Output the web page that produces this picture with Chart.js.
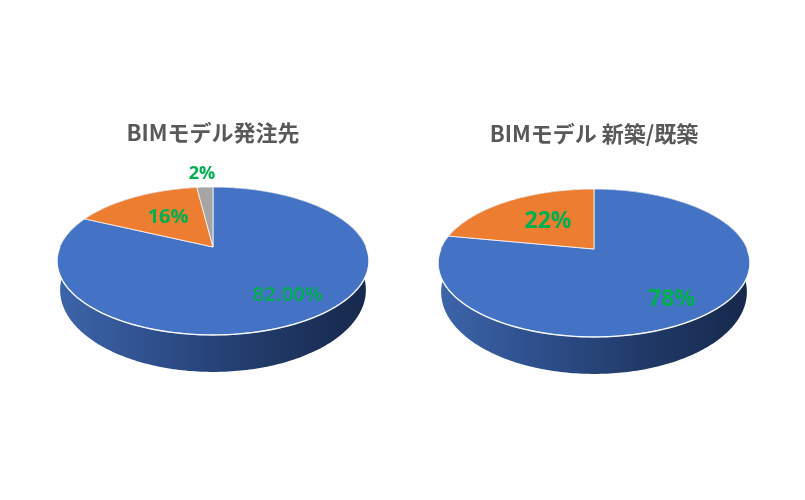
<!DOCTYPE html>
<html lang="ja">
<head>
<meta charset="utf-8">
<title>BIMモデル</title>
<script src="https://cdn.jsdelivr.net/npm/chart.js@4"></script>
<style>
    html, body { margin: 0; padding: 0; background: #fff; }
    #page { position: relative; width: 805px; height: 500px; overflow: hidden; }
    canvas { position: absolute; top: 0; }
    #orderChart { left: 0; }
    #buildChart { left: 402px; }
</style>
</head>
<body>
<div id="page">
    <canvas id="orderChart" width="402" height="500"></canvas>
    <canvas id="buildChart" width="403" height="500"></canvas>
</div>
<script>
const orderTitle = 'BIMモデル発注先';
const orderCategories = ['国内', '海外', 'その他'];
const orderValues = [82, 16, 2];
const orderLabels = ['82.00%', '16%', '2%'];

const buildTitle = 'BIMモデル 新築/既築';
const buildCategories = ['新築', '既築'];
const buildValues = [78, 22];
const buildLabels = ['78%', '22%'];

const sliceColors = ['#4472c4', '#ed7d31', '#a5a5a5'];
const labelColor = '#00b050';
const titleColor = '#595959';
const jpFont = '"Noto Sans CJK JP", "Noto Sans", sans-serif';

// Flat look of the disc: squash + perspective, so the apex sits above the ellipse centre
const squash = 0.474;
const apexLift = 14;
const wallDepth = 29;
const wallShrinkX = 0.98;
const wallStretchY = 1.108;

// Projects a point of the pie circle (angle in radians, f = fraction of radius)
// to canvas pixels
function project(arc, angle, f) {
    const a = arc.outerRadius;
    const b = a * squash;
    const p = apexLift / b;
    const A = a * Math.sqrt(1 - p * p);
    const B = (b * b - apexLift * apexLift) / b;
    const u = Math.cos(angle) * f;
    const v = Math.sin(angle) * f;
    const w = 1 - p * v;
    return { x: arc.x + A * u / w, y: arc.y - apexLift + B * v / w };
}

function edgePoints(arc) {
    const pts = [];
    const steps = Math.max(4, Math.ceil((arc.endAngle - arc.startAngle) * 60));
    for (let i = 0; i <= steps; i++) {
        pts.push(project(arc, arc.startAngle + (arc.endAngle - arc.startAngle) * i / steps, 1));
    }
    return pts;
}

const tiltedPie = {
    id: 'tiltedPie',
    beforeDatasetDraw(chart, args) {
        const ctx = chart.ctx;
        const arcs = args.meta.data;
        const r = arcs[0].outerRadius;
        const cx = arcs[0].x;
        const cy = arcs[0].y;

        // side wall
        const wall = ctx.createLinearGradient(cx - r, 0, cx + r, 0);
        wall.addColorStop(0, '#3d65aa');
        wall.addColorStop(0.3, '#2f508e');
        wall.addColorStop(0.65, '#213a68');
        wall.addColorStop(1, '#16284c');
        ctx.fillStyle = wall;
        arcs.forEach((arc) => {
            const pts = edgePoints(arc);
            ctx.beginPath();
            pts.forEach((pt, i) => {
                if (i === 0) ctx.moveTo(pt.x, pt.y);
                else ctx.lineTo(pt.x, pt.y);
            });
            pts.slice().reverse().forEach((pt) => {
                ctx.lineTo(cx + (pt.x - cx) * wallShrinkX, cy + wallDepth + (pt.y - cy) * wallStretchY);
            });
            ctx.closePath();
            ctx.fill();
        });

        // top faces
        arcs.forEach((arc, i) => {
            const apex = project(arc, arc.startAngle, 0);
            ctx.beginPath();
            ctx.moveTo(apex.x, apex.y);
            edgePoints(arc).forEach((pt) => ctx.lineTo(pt.x, pt.y));
            ctx.closePath();
            ctx.fillStyle = sliceColors[i];
            ctx.fill();
            ctx.lineWidth = 1;
            ctx.strokeStyle = 'rgba(255,255,255,0.75)';
            ctx.stroke();
        });

        // light rim along the front edge
        ctx.beginPath();
        for (let t = 0; t <= 180; t += 2) {
            const pt = project(arcs[0], t * Math.PI / 180, 1);
            if (t === 0) ctx.moveTo(pt.x, pt.y);
            else ctx.lineTo(pt.x, pt.y);
        }
        ctx.lineWidth = 1.4;
        ctx.strokeStyle = 'rgba(255,255,255,0.85)';
        ctx.stroke();

        return false; // faces are already drawn
    },
    afterDatasetsDraw(chart, args, opts) {
        const ctx = chart.ctx;
        chart.getDatasetMeta(0).data.forEach((arc, i) => {
            const mid = project(arc, (arc.startAngle + arc.endAngle) / 2, 0.7);
            ctx.font = opts.labelFonts[i];
            ctx.fillStyle = labelColor;
            ctx.textAlign = 'center';
            ctx.textBaseline = 'middle';
            ctx.fillText(opts.labels[i], mid.x + opts.nudges[i][0], mid.y + opts.nudges[i][1]);
        });
    }
};

function makePie(id, title, categories, values, titleTop, padding, pieOpts) {
    return new Chart(document.getElementById(id), {
        type: 'pie',
        data: {
            labels: categories,
            datasets: [{
                data: values,
                backgroundColor: sliceColors.slice(0, values.length),
                borderWidth: 0
            }]
        },
        options: {
            responsive: false,
            animation: false,
            radius: 156,
            layout: { padding: padding },
            plugins: {
                legend: { display: false },
                tooltip: { enabled: false },
                title: {
                    display: true,
                    text: title,
                    color: titleColor,
                    font: { family: jpFont, size: 22, weight: 'bold', lineHeight: 1.2 },
                    padding: { top: titleTop, bottom: 0 }
                },
                tiltedPie: pieOpts
            }
        },
        plugins: [tiltedPie]
    });
}

makePie('orderChart', orderTitle, orderCategories, orderValues, 119,
    { left: 24, bottom: 123.4 },
    {
        labels: orderLabels,
        labelFonts: ['600 20.5px "Open Sans"', 'bold 20px "Open Sans"', 'bold 18px "Open Sans"'],
        nudges: [[10, 1], [12, 7], [-5, -29.5]]
    });

makePie('buildChart', buildTitle, buildCategories, buildValues, 120,
    { right: 19, bottom: 120.4 },
    {
        labels: buildLabels,
        labelFonts: ['bold 23px "Open Sans"', 'bold 23px "Open Sans"'],
        nudges: [[1.5, 8], [16, 7]]
    });
</script>
</body>
</html>
